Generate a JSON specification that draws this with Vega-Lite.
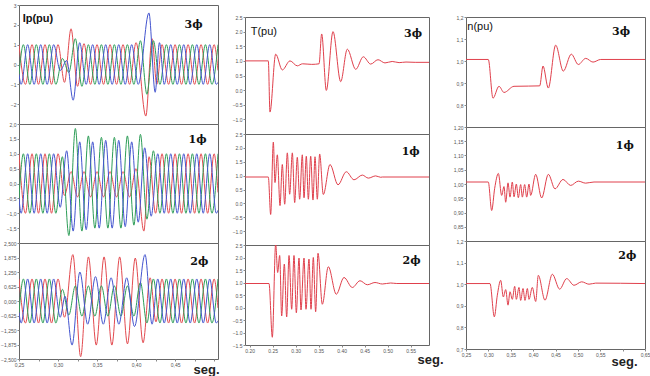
{
"$schema":"https://vega.github.io/schema/vega-lite/v6.json",
"padding":{"left":0,"top":2,"right":0,"bottom":0},
"background":"white",
"config":{"view":{"stroke":"#666","strokeWidth":1},"font":"Liberation Sans",
"axis":{"labelFontSize":5,"labelColor":"#555","tickSize":2,"tickColor":"#888","domain":false,"grid":false,"labelPadding":1,"labelFlush":false,"labelOverlap":false,"labelBound":false,"titleFontSize":13,"titleFontWeight":"bold","titleColor":"#222","titlePadding":0}},
"datasets":{
"one":[{}],
"c1a":[
{"s":"A","t":0.25,"v":1},{"s":"A","t":0.2583,"v":-1},{"s":"A","t":0.2667,"v":1},{"s":"A","t":0.275,"v":-1},{"s":"A","t":0.2833,"v":1},{"s":"A","t":0.2917,"v":-1},{"s":"A","t":0.3,"v":1},{"s":"A","t":0.3083,"v":-0.9},{"s":"A","t":0.3167,"v":1.8},{"s":"A","t":0.325,"v":-1.1},{"s":"A","t":0.3333,"v":1.05},{"s":"A","t":0.3417,"v":-1},{"s":"A","t":0.35,"v":1},{"s":"A","t":0.3583,"v":-1},{"s":"A","t":0.3667,"v":1},{"s":"A","t":0.375,"v":-1},{"s":"A","t":0.3833,"v":1},{"s":"A","t":0.3917,"v":-1},{"s":"A","t":0.4,"v":1.1},{"s":"A","t":0.4125,"v":-2.6},{"s":"A","t":0.4205,"v":1.3},{"s":"A","t":0.4265,"v":-1},{"s":"A","t":0.4333,"v":1},{"s":"A","t":0.4417,"v":-1},{"s":"A","t":0.45,"v":1},{"s":"A","t":0.4583,"v":-1},{"s":"A","t":0.4667,"v":1},{"s":"A","t":0.475,"v":-1},{"s":"A","t":0.4833,"v":1},{"s":"A","t":0.4917,"v":-1},{"s":"A","t":0.5,"v":1},{"s":"A","t":0.505,"v":-0.3},
{"s":"B","t":0.25,"v":-0.5},{"s":"B","t":0.2556,"v":1},{"s":"B","t":0.2639,"v":-1},{"s":"B","t":0.2722,"v":1},{"s":"B","t":0.2806,"v":-1},{"s":"B","t":0.2889,"v":1},{"s":"B","t":0.2972,"v":-1},{"s":"B","t":0.3056,"v":0.3},{"s":"B","t":0.3139,"v":-0.4},{"s":"B","t":0.3222,"v":1.3},{"s":"B","t":0.3306,"v":-1.1},{"s":"B","t":0.3389,"v":1},{"s":"B","t":0.3472,"v":-1},{"s":"B","t":0.3556,"v":1},{"s":"B","t":0.3639,"v":-1},{"s":"B","t":0.3722,"v":1},{"s":"B","t":0.3806,"v":-1},{"s":"B","t":0.3889,"v":1},{"s":"B","t":0.3972,"v":-1},{"s":"B","t":0.4056,"v":1.2},{"s":"B","t":0.4139,"v":-1.5},{"s":"B","t":0.4222,"v":1.2},{"s":"B","t":0.4306,"v":-1},{"s":"B","t":0.4389,"v":1},{"s":"B","t":0.4472,"v":-1},{"s":"B","t":0.4556,"v":1},{"s":"B","t":0.4639,"v":-1},{"s":"B","t":0.4722,"v":1},{"s":"B","t":0.4806,"v":-1},{"s":"B","t":0.4889,"v":1},{"s":"B","t":0.4972,"v":-1},{"s":"B","t":0.505,"v":1},
{"s":"C","t":0.25,"v":-0.5},{"s":"C","t":0.2528,"v":-1},{"s":"C","t":0.2611,"v":1},{"s":"C","t":0.2694,"v":-1},{"s":"C","t":0.2778,"v":1},{"s":"C","t":0.2861,"v":-1},{"s":"C","t":0.2944,"v":1},{"s":"C","t":0.3028,"v":-0.3},{"s":"C","t":0.3111,"v":0.2},{"s":"C","t":0.3194,"v":-1.8},{"s":"C","t":0.3278,"v":1.1},{"s":"C","t":0.3361,"v":-1},{"s":"C","t":0.3444,"v":1},{"s":"C","t":0.3528,"v":-1},{"s":"C","t":0.3611,"v":1},{"s":"C","t":0.3694,"v":-1},{"s":"C","t":0.3778,"v":1},{"s":"C","t":0.3861,"v":-1},{"s":"C","t":0.3944,"v":1},{"s":"C","t":0.4028,"v":-1},{"s":"C","t":0.4165,"v":2.6},{"s":"C","t":0.4245,"v":-1.4},{"s":"C","t":0.43,"v":1.1},{"s":"C","t":0.4361,"v":-1},{"s":"C","t":0.4444,"v":1},{"s":"C","t":0.4528,"v":-1},{"s":"C","t":0.4611,"v":1},{"s":"C","t":0.4694,"v":-1},{"s":"C","t":0.4778,"v":1},{"s":"C","t":0.4861,"v":-1},{"s":"C","t":0.4944,"v":1},{"s":"C","t":0.5028,"v":-1},{"s":"C","t":0.505,"v":-0.9}],
"c1b":[
{"s":"A","t":0.25,"v":1},{"s":"A","t":0.2583,"v":-1},{"s":"A","t":0.2667,"v":1},{"s":"A","t":0.275,"v":-1},{"s":"A","t":0.2833,"v":1},{"s":"A","t":0.2917,"v":-1},{"s":"A","t":0.3,"v":1},{"s":"A","t":0.3083,"v":-0.4},{"s":"A","t":0.3167,"v":0.4},{"s":"A","t":0.325,"v":-0.45},{"s":"A","t":0.3333,"v":0.4},{"s":"A","t":0.3417,"v":-0.45},{"s":"A","t":0.35,"v":0.4},{"s":"A","t":0.3583,"v":-0.45},{"s":"A","t":0.3667,"v":0.4},{"s":"A","t":0.375,"v":-0.45},{"s":"A","t":0.3833,"v":0.4},{"s":"A","t":0.3917,"v":-0.45},{"s":"A","t":0.4,"v":0.5},{"s":"A","t":0.41,"v":-1.6},{"s":"A","t":0.4167,"v":0.9},{"s":"A","t":0.425,"v":-1},{"s":"A","t":0.4333,"v":1},{"s":"A","t":0.4417,"v":-1},{"s":"A","t":0.45,"v":1},{"s":"A","t":0.4583,"v":-1},{"s":"A","t":0.4667,"v":1},{"s":"A","t":0.475,"v":-1},{"s":"A","t":0.4833,"v":1},{"s":"A","t":0.4917,"v":-1},{"s":"A","t":0.5,"v":1},{"s":"A","t":0.505,"v":-0.3},
{"s":"B","t":0.25,"v":-0.5},{"s":"B","t":0.2556,"v":1},{"s":"B","t":0.2639,"v":-1},{"s":"B","t":0.2722,"v":1},{"s":"B","t":0.2806,"v":-1},{"s":"B","t":0.2889,"v":1},{"s":"B","t":0.2972,"v":-1},{"s":"B","t":0.3056,"v":0.9},{"s":"B","t":0.3139,"v":-1.75},{"s":"B","t":0.3222,"v":1.85},{"s":"B","t":0.3306,"v":-1.6},{"s":"B","t":0.3389,"v":1.6},{"s":"B","t":0.3472,"v":-1.5},{"s":"B","t":0.3556,"v":1.55},{"s":"B","t":0.3639,"v":-1.5},{"s":"B","t":0.3722,"v":1.55},{"s":"B","t":0.3806,"v":-1.5},{"s":"B","t":0.3889,"v":1.6},{"s":"B","t":0.3972,"v":-1.4},{"s":"B","t":0.4056,"v":1.65},{"s":"B","t":0.4139,"v":-1.2},{"s":"B","t":0.4222,"v":1.1},{"s":"B","t":0.4306,"v":-1},{"s":"B","t":0.4389,"v":1},{"s":"B","t":0.4472,"v":-1},{"s":"B","t":0.4556,"v":1},{"s":"B","t":0.4639,"v":-1},{"s":"B","t":0.4722,"v":1},{"s":"B","t":0.4806,"v":-1},{"s":"B","t":0.4889,"v":1},{"s":"B","t":0.4972,"v":-1},{"s":"B","t":0.505,"v":1},
{"s":"C","t":0.25,"v":-0.5},{"s":"C","t":0.2528,"v":-1},{"s":"C","t":0.2611,"v":1},{"s":"C","t":0.2694,"v":-1},{"s":"C","t":0.2778,"v":1},{"s":"C","t":0.2861,"v":-1},{"s":"C","t":0.2944,"v":1},{"s":"C","t":0.3028,"v":-0.8},{"s":"C","t":0.3111,"v":1.1},{"s":"C","t":0.3194,"v":-1.6},{"s":"C","t":0.3278,"v":1.4},{"s":"C","t":0.3361,"v":-1.55},{"s":"C","t":0.3444,"v":1.4},{"s":"C","t":0.3528,"v":-1.5},{"s":"C","t":0.3611,"v":1.45},{"s":"C","t":0.3694,"v":-1.5},{"s":"C","t":0.3778,"v":1.45},{"s":"C","t":0.3861,"v":-1.45},{"s":"C","t":0.3944,"v":1.4},{"s":"C","t":0.4028,"v":-1.3},{"s":"C","t":0.4111,"v":1.2},{"s":"C","t":0.4194,"v":-1.1},{"s":"C","t":0.4278,"v":1},{"s":"C","t":0.4361,"v":-1},{"s":"C","t":0.4444,"v":1},{"s":"C","t":0.4528,"v":-1},{"s":"C","t":0.4611,"v":1},{"s":"C","t":0.4694,"v":-1},{"s":"C","t":0.4778,"v":1},{"s":"C","t":0.4861,"v":-1},{"s":"C","t":0.4944,"v":1},{"s":"C","t":0.5028,"v":-1},{"s":"C","t":0.505,"v":-0.9}],
"c1c":[
{"s":"A","t":0.25,"v":0.95},{"s":"A","t":0.2583,"v":-0.95},{"s":"A","t":0.2667,"v":0.95},{"s":"A","t":0.275,"v":-0.95},{"s":"A","t":0.2833,"v":0.95},{"s":"A","t":0.2917,"v":-0.95},{"s":"A","t":0.3,"v":0.95},{"s":"A","t":0.3083,"v":-0.7},{"s":"A","t":0.319,"v":2.0},{"s":"A","t":0.329,"v":-2.4},{"s":"A","t":0.339,"v":1.9},{"s":"A","t":0.349,"v":-1.9},{"s":"A","t":0.359,"v":1.9},{"s":"A","t":0.369,"v":-1.9},{"s":"A","t":0.379,"v":1.9},{"s":"A","t":0.389,"v":-1.85},{"s":"A","t":0.399,"v":1.85},{"s":"A","t":0.409,"v":-1.8},{"s":"A","t":0.418,"v":1.0},{"s":"A","t":0.4255,"v":-0.9},{"s":"A","t":0.4333,"v":0.95},{"s":"A","t":0.4417,"v":-0.95},{"s":"A","t":0.45,"v":0.95},{"s":"A","t":0.4583,"v":-0.95},{"s":"A","t":0.4667,"v":0.95},{"s":"A","t":0.475,"v":-0.95},{"s":"A","t":0.4833,"v":0.95},{"s":"A","t":0.4917,"v":-0.95},{"s":"A","t":0.5,"v":0.95},{"s":"A","t":0.505,"v":-0.3},
{"s":"B","t":0.25,"v":-0.5},{"s":"B","t":0.2556,"v":0.95},{"s":"B","t":0.2639,"v":-0.95},{"s":"B","t":0.2722,"v":0.95},{"s":"B","t":0.2806,"v":-0.95},{"s":"B","t":0.2889,"v":0.95},{"s":"B","t":0.2972,"v":-0.95},{"s":"B","t":0.3056,"v":0.5},{"s":"B","t":0.3139,"v":-0.6},{"s":"B","t":0.3222,"v":0.65},{"s":"B","t":0.3306,"v":-0.65},{"s":"B","t":0.3389,"v":0.65},{"s":"B","t":0.3472,"v":-0.65},{"s":"B","t":0.3556,"v":0.65},{"s":"B","t":0.3639,"v":-0.65},{"s":"B","t":0.3722,"v":0.65},{"s":"B","t":0.3806,"v":-0.65},{"s":"B","t":0.3889,"v":0.65},{"s":"B","t":0.3972,"v":-0.65},{"s":"B","t":0.4056,"v":0.8},{"s":"B","t":0.4139,"v":-0.95},{"s":"B","t":0.4222,"v":0.95},{"s":"B","t":0.4306,"v":-0.95},{"s":"B","t":0.4389,"v":0.95},{"s":"B","t":0.4472,"v":-0.95},{"s":"B","t":0.4556,"v":0.95},{"s":"B","t":0.4639,"v":-0.95},{"s":"B","t":0.4722,"v":0.95},{"s":"B","t":0.4806,"v":-0.95},{"s":"B","t":0.4889,"v":0.95},{"s":"B","t":0.4972,"v":-0.95},{"s":"B","t":0.505,"v":0.95},
{"s":"C","t":0.25,"v":-0.5},{"s":"C","t":0.2528,"v":-0.95},{"s":"C","t":0.2611,"v":0.95},{"s":"C","t":0.2694,"v":-0.95},{"s":"C","t":0.2778,"v":0.95},{"s":"C","t":0.2861,"v":-0.95},{"s":"C","t":0.2944,"v":0.95},{"s":"C","t":0.3028,"v":-0.7},{"s":"C","t":0.309,"v":0.2},{"s":"C","t":0.318,"v":-1.9},{"s":"C","t":0.328,"v":1.25},{"s":"C","t":0.338,"v":-1.0},{"s":"C","t":0.348,"v":1.05},{"s":"C","t":0.358,"v":-1.0},{"s":"C","t":0.368,"v":1.0},{"s":"C","t":0.378,"v":-1.0},{"s":"C","t":0.388,"v":1.0},{"s":"C","t":0.398,"v":-1.1},{"s":"C","t":0.4115,"v":2.0},{"s":"C","t":0.4205,"v":-1.0},{"s":"C","t":0.4278,"v":0.95},{"s":"C","t":0.4361,"v":-0.95},{"s":"C","t":0.4444,"v":0.95},{"s":"C","t":0.4528,"v":-0.95},{"s":"C","t":0.4611,"v":0.95},{"s":"C","t":0.4694,"v":-0.95},{"s":"C","t":0.4778,"v":0.95},{"s":"C","t":0.4861,"v":-0.95},{"s":"C","t":0.4944,"v":0.95},{"s":"C","t":0.5028,"v":-0.95},{"s":"C","t":0.505,"v":-0.85}],
"t1":[{"t":0.19,"v":1.0},{"t":0.2407,"v":1.0},{"t":0.2443,"v":-0.75},{"t":0.2567,"v":1.23},{"t":0.2711,"v":0.69},{"t":0.2878,"v":1.0},{"t":0.3037,"v":0.83},{"t":0.315,"v":0.9},{"t":0.335,"v":0.88},{"t":0.351,"v":0.9},{"t":0.3567,"v":1.92},{"t":0.3668,"v":-0.01},{"t":0.3813,"v":2.0},{"t":0.398,"v":0.29},{"t":0.4124,"v":1.4},{"t":0.4307,"v":0.71},{"t":0.4472,"v":1.14},{"t":0.4632,"v":0.89},{"t":0.4791,"v":1.04},{"t":0.4943,"v":0.93},{"t":0.51,"v":0.98},{"t":0.525,"v":0.94},{"t":0.54,"v":0.96},{"t":0.56,"v":0.95},{"t":0.59,"v":0.95}],
"t2":[{"t":0.19,"v":0.95},{"t":0.2407,"v":0.95},{"t":0.2458,"v":-0.4},{"t":0.2516,"v":2.21},{"t":0.2552,"v":0.75},{"t":0.2603,"v":1.75},{"t":0.2661,"v":-0.08},{"t":0.2711,"v":1.4},{"t":0.2763,"v":-0.03},{"t":0.282,"v":1.82},{"t":0.2871,"v":0.33},{"t":0.2929,"v":1.82},{"t":0.298,"v":0.03},{"t":0.3037,"v":1.66},{"t":0.3088,"v":0.15},{"t":0.3146,"v":1.75},{"t":0.3183,"v":0.2},{"t":0.3233,"v":1.7},{"t":0.3277,"v":0.15},{"t":0.3328,"v":1.7},{"t":0.3378,"v":0.12},{"t":0.3422,"v":1.68},{"t":0.3472,"v":0.15},{"t":0.3523,"v":1.78},{"t":0.3602,"v":0.32},{"t":0.3748,"v":1.4},{"t":0.3922,"v":0.67},{"t":0.4102,"v":1.14},{"t":0.427,"v":0.85},{"t":0.445,"v":1.02},{"t":0.4581,"v":0.91},{"t":0.4741,"v":0.99},{"t":0.485,"v":0.94},{"t":0.4885,"v":0.95},{"t":0.59,"v":0.95}],
"t3":[{"t":0.19,"v":0.96},{"t":0.2422,"v":0.96},{"t":0.2494,"v":-1.19},{"t":0.2567,"v":2.55},{"t":0.261,"v":1.4},{"t":0.2654,"v":2.08},{"t":0.2697,"v":-0.34},{"t":0.2755,"v":1.74},{"t":0.2806,"v":-0.38},{"t":0.2857,"v":2.08},{"t":0.2915,"v":-0.07},{"t":0.2965,"v":2.08},{"t":0.3016,"v":-0.21},{"t":0.3074,"v":1.98},{"t":0.3117,"v":-0.1},{"t":0.3183,"v":1.98},{"t":0.3226,"v":-0.07},{"t":0.3291,"v":1.94},{"t":0.3335,"v":-0.07},{"t":0.3385,"v":2.0},{"t":0.3436,"v":-0.17},{"t":0.3487,"v":2.17},{"t":0.3581,"v":0.13},{"t":0.3711,"v":1.63},{"t":0.3885,"v":0.53},{"t":0.4052,"v":1.2},{"t":0.4233,"v":0.8},{"t":0.44,"v":1.07},{"t":0.4559,"v":0.91},{"t":0.4726,"v":1.0},{"t":0.4885,"v":0.94},{"t":0.5067,"v":0.98},{"t":0.52,"v":0.96},{"t":0.59,"v":0.96}],
"n1":[{"t":0.25,"v":1.007},{"t":0.2998,"v":1.007},{"t":0.3103,"v":0.831},{"t":0.3237,"v":0.885},{"t":0.3349,"v":0.857},{"t":0.3573,"v":0.885},{"t":0.39,"v":0.886},{"t":0.4147,"v":0.887},{"t":0.4221,"v":0.977},{"t":0.4339,"v":0.877},{"t":0.4504,"v":1.072},{"t":0.4674,"v":0.954},{"t":0.4853,"v":1.031},{"t":0.501,"v":0.984},{"t":0.5175,"v":1.012},{"t":0.5338,"v":0.995},{"t":0.551,"v":1.007},{"t":0.65,"v":1.007}],
"n2":[{"t":0.25,"v":1.007},{"t":0.2998,"v":1.007},{"t":0.3074,"v":0.907},{"t":0.3141,"v":0.985},{"t":0.3223,"v":1.037},{"t":0.3297,"v":0.96},{"t":0.3349,"v":0.991},{"t":0.3387,"v":0.936},{"t":0.3439,"v":1.004},{"t":0.3483,"v":0.954},{"t":0.3535,"v":1.007},{"t":0.3573,"v":0.955},{"t":0.3625,"v":1.0},{"t":0.3669,"v":0.952},{"t":0.3722,"v":0.998},{"t":0.3759,"v":0.954},{"t":0.3811,"v":0.998},{"t":0.3856,"v":0.954},{"t":0.3908,"v":1.0},{"t":0.3945,"v":0.96},{"t":0.4057,"v":1.034},{"t":0.4191,"v":0.951},{"t":0.434,"v":1.034},{"t":0.4489,"v":0.983},{"t":0.4668,"v":1.016},{"t":0.4839,"v":0.995},{"t":0.501,"v":1.01},{"t":0.5174,"v":1.003},{"t":0.536,"v":1.007},{"t":0.65,"v":1.007}],
"n3":[{"t":0.25,"v":1.003},{"t":0.3036,"v":1.003},{"t":0.3133,"v":0.849},{"t":0.32,"v":0.949},{"t":0.3275,"v":1.018},{"t":0.3334,"v":0.941},{"t":0.3387,"v":0.975},{"t":0.3439,"v":0.903},{"t":0.3483,"v":0.965},{"t":0.3535,"v":0.93},{"t":0.3588,"v":0.99},{"t":0.3625,"v":0.93},{"t":0.3684,"v":0.985},{"t":0.3722,"v":0.925},{"t":0.3774,"v":0.98},{"t":0.3818,"v":0.925},{"t":0.3871,"v":0.98},{"t":0.3908,"v":0.93},{"t":0.3982,"v":0.985},{"t":0.4057,"v":0.92},{"t":0.4116,"v":1.041},{"t":0.4265,"v":0.926},{"t":0.4429,"v":1.046},{"t":0.4593,"v":0.977},{"t":0.475,"v":1.026},{"t":0.4913,"v":0.995},{"t":0.5085,"v":1.011},{"t":0.5249,"v":1.0},{"t":0.5398,"v":1.005},{"t":0.65,"v":1.003}]
},
"spacing":11,
"hconcat":[
{"vconcat":[
 {"width":199,"height":119,"layer":[
  {"data":{"name":"c1a"},"mark":{"type":"line","interpolate":"monotone","strokeWidth":1,"clip":true},
   "encoding":{"x":{"field":"t","type":"quantitative","scale":{"domain":[0.25,0.505],"nice":false,"zero":false},"axis":null},
   "y":{"field":"v","type":"quantitative","scale":{"domain":[-3,3],"nice":false},"axis":{"title":null,"tickCount":40,"values":[-2,-1,0,1,2,3],"format":"d"}},
   "color":{"field":"s","type":"nominal","scale":{"domain":["A","B","C"],"range":["#e34a4f","#2d9d57","#4354cf"]},"legend":null}}},
  {"data":{"name":"one"},"mark":{"type":"text","text":"Ip(pu)","align":"left","baseline":"alphabetic","fontSize":11,"fontWeight":"bold","font":"Liberation Sans","color":"#111"},
   "encoding":{"x":{"datum":0.2547,"type":"quantitative"},"y":{"datum":2.12,"type":"quantitative"}}},
  {"data":{"name":"one"},"mark":{"type":"text","text":"3ϕ","align":"center","baseline":"alphabetic","fontSize":11,"fontWeight":"bold","font":"DejaVu Serif","color":"#111"},
   "encoding":{"x":{"datum":0.4736,"type":"quantitative"},"y":{"datum":1.865,"type":"quantitative"}}}]},
 {"width":199,"height":119,"layer":[
  {"data":{"name":"c1b"},"mark":{"type":"line","interpolate":"monotone","strokeWidth":1,"clip":true},
   "encoding":{"x":{"field":"t","type":"quantitative","scale":{"domain":[0.25,0.505],"nice":false,"zero":false},"axis":null},
   "y":{"field":"v","type":"quantitative","scale":{"domain":[-2,2],"nice":false},"axis":{"title":null,"tickCount":40,"values":[-1.5,-1,-0.5,0,0.5,1,1.5,2],"labelExpr":"replace(format(datum.value,'.1f'),'.',',')"}},
   "color":{"field":"s","type":"nominal","scale":{"domain":["A","B","C"],"range":["#e34a4f","#2d9d57","#4354cf"]},"legend":null}}},
  {"data":{"name":"one"},"mark":{"type":"text","text":"1ϕ","align":"center","baseline":"alphabetic","fontSize":11,"fontWeight":"bold","font":"DejaVu Serif","color":"#111"},
   "encoding":{"x":{"datum":0.4787,"type":"quantitative"},"y":{"datum":1.345,"type":"quantitative"}}}]},
 {"width":199,"height":116,"layer":[
  {"data":{"name":"c1c"},"mark":{"type":"line","interpolate":"monotone","strokeWidth":1,"clip":true},
   "encoding":{"x":{"field":"t","type":"quantitative","scale":{"domain":[0.25,0.505],"nice":false,"zero":false},
     "axis":{"title":"seg.","tickCount":40,"values":[0.25,0.275,0.3,0.325,0.35,0.375,0.4,0.425,0.45,0.475,0.5],"labelExpr":"(round(datum.value*1000)%50==0 && datum.value<0.49) ? replace(format(datum.value,'.2f'),'.',',') : ''","titleX":200,"titleY":14,"titleAlign":"right","titleBaseline":"alphabetic"}},
   "y":{"field":"v","type":"quantitative","scale":{"domain":[-2.5,2.5],"nice":false},"axis":{"title":null,"tickCount":40,"values":[-2.5,-1.875,-1.25,-0.625,0,0.625,1.25,1.875,2.5],"labelExpr":"replace(format(datum.value,'.3f'),'.',',')"}},
   "color":{"field":"s","type":"nominal","scale":{"domain":["A","B","C"],"range":["#e34a4f","#2d9d57","#4354cf"]},"legend":null}}},
  {"data":{"name":"one"},"mark":{"type":"text","text":"2ϕ","align":"center","baseline":"alphabetic","fontSize":11,"fontWeight":"bold","font":"DejaVu Serif","color":"#111"},
   "encoding":{"x":{"datum":0.4811,"type":"quantitative"},"y":{"datum":1.55,"type":"quantitative"}}}]}
 ],"spacing":0,"bounds":"flush"},
{"spacing":8,"hconcat":[
 {"vconcat":[
  {"width":184,"height":12,"data":{"values":[]},"mark":"point","view":{"stroke":null}},
  {"width":184,"height":117,"layer":[
   {"data":{"name":"t1"},"mark":{"type":"line","interpolate":"monotone","strokeWidth":1,"clip":true,"color":"#e0404c"},
    "encoding":{"x":{"field":"t","type":"quantitative","scale":{"domain":[0.19,0.59],"nice":false,"zero":false},"axis":null},
    "y":{"field":"v","type":"quantitative","scale":{"domain":[-1.5,2.5],"nice":false},"axis":{"title":null,"tickCount":40,"values":[-1,-0.5,0,0.5,1,1.5,2,2.5],"format":".1f"}}}},
   {"data":{"name":"one"},"mark":{"type":"text","text":"T(pu)","align":"left","baseline":"alphabetic","fontSize":11,"font":"Liberation Sans","color":"#111"},
    "encoding":{"x":{"datum":0.2024,"type":"quantitative"},"y":{"datum":1.895,"type":"quantitative"}}},
   {"data":{"name":"one"},"mark":{"type":"text","text":"3ϕ","align":"center","baseline":"alphabetic","fontSize":11,"fontWeight":"bold","font":"DejaVu Serif","color":"#111"},
    "encoding":{"x":{"datum":0.5552,"type":"quantitative"},"y":{"datum":1.816,"type":"quantitative"}}}]},
  {"width":184,"height":111,"layer":[
   {"data":{"name":"t2"},"mark":{"type":"line","interpolate":"monotone","strokeWidth":1,"clip":true,"color":"#e0404c"},
    "encoding":{"x":{"field":"t","type":"quantitative","scale":{"domain":[0.19,0.59],"nice":false,"zero":false},"axis":null},
    "y":{"field":"v","type":"quantitative","scale":{"domain":[-1.5,2.5],"nice":false},"axis":{"title":null,"tickCount":40,"values":[-1,-0.5,0,0.5,1,1.5,2,2.5],"format":".1f"}}}},
   {"data":{"name":"one"},"mark":{"type":"text","text":"1ϕ","align":"center","baseline":"alphabetic","fontSize":11,"fontWeight":"bold","font":"DejaVu Serif","color":"#111"},
    "encoding":{"x":{"datum":0.5502,"type":"quantitative"},"y":{"datum":1.743,"type":"quantitative"}}}]},
  {"width":184,"height":100,"layer":[
   {"data":{"name":"t3"},"mark":{"type":"line","interpolate":"monotone","strokeWidth":1,"clip":true,"color":"#e0404c"},
    "encoding":{"x":{"field":"t","type":"quantitative","scale":{"domain":[0.19,0.59],"nice":false,"zero":false},
      "axis":{"title":"seg.","tickCount":40,"values":[0.2,0.25,0.3,0.35,0.4,0.45,0.5,0.55],"format":".2f","titleX":198,"titleY":18,"titleAlign":"right","titleBaseline":"alphabetic"}},
    "y":{"field":"v","type":"quantitative","scale":{"domain":[-1.5,2.5],"nice":false},"axis":{"title":null,"tickCount":40,"values":[-1.5,-1,-0.5,0,0.5,1,1.5,2,2.5],"format":".1f"}}}},
   {"data":{"name":"one"},"mark":{"type":"text","text":"2ϕ","align":"center","baseline":"alphabetic","fontSize":11,"fontWeight":"bold","font":"DejaVu Serif","color":"#111"},
    "encoding":{"x":{"datum":0.552,"type":"quantitative"},"y":{"datum":1.76,"type":"quantitative"}}}]}
 ],"spacing":0,"bounds":"flush"},
 {"vconcat":[
  {"width":179,"height":12,"data":{"values":[]},"mark":"point","view":{"stroke":null}},
  {"width":179,"height":110,"layer":[
   {"data":{"name":"n1"},"mark":{"type":"line","interpolate":"monotone","strokeWidth":1,"clip":true,"color":"#e0404c"},
    "encoding":{"x":{"field":"t","type":"quantitative","scale":{"domain":[0.25,0.65],"nice":false,"zero":false},"axis":null},
    "y":{"field":"v","type":"quantitative","scale":{"domain":[0.7,1.2],"nice":false,"zero":false},"axis":{"title":null,"tickCount":40,"values":[0.8,0.9,1.0,1.1,1.2],"labelExpr":"replace(format(datum.value,'.1f'),'.',',')"}}}},
   {"data":{"name":"one"},"mark":{"type":"text","text":"n(pu)","align":"left","baseline":"alphabetic","fontSize":11,"font":"Liberation Sans","color":"#111"},
    "encoding":{"x":{"datum":0.2529,"type":"quantitative"},"y":{"datum":1.1395,"type":"quantitative"}}},
   {"data":{"name":"one"},"mark":{"type":"text","text":"3ϕ","align":"center","baseline":"alphabetic","fontSize":11,"fontWeight":"bold","font":"DejaVu Serif","color":"#111"},
    "encoding":{"x":{"datum":0.5964,"type":"quantitative"},"y":{"datum":1.118,"type":"quantitative"}}}]},
  {"width":179,"height":114,"layer":[
   {"data":{"name":"n2"},"mark":{"type":"line","interpolate":"monotone","strokeWidth":1,"clip":true,"color":"#e0404c"},
    "encoding":{"x":{"field":"t","type":"quantitative","scale":{"domain":[0.25,0.65],"nice":false,"zero":false},"axis":null},
    "y":{"field":"v","type":"quantitative","scale":{"domain":[0.8,1.2],"nice":false,"zero":false},"axis":{"title":null,"tickCount":40,"values":[0.85,0.9,0.95,1.0,1.05,1.1,1.15,1.2],"labelExpr":"replace(format(datum.value,'.2f'),'.',',')"}}}},
   {"data":{"name":"one"},"mark":{"type":"text","text":"1ϕ","align":"center","baseline":"alphabetic","fontSize":11,"fontWeight":"bold","font":"DejaVu Serif","color":"#111"},
    "encoding":{"x":{"datum":0.6049,"type":"quantitative"},"y":{"datum":1.1228,"type":"quantitative"}}}]},
  {"width":179,"height":108,"layer":[
   {"data":{"name":"n3"},"mark":{"type":"line","interpolate":"monotone","strokeWidth":1,"clip":true,"color":"#e0404c"},
    "encoding":{"x":{"field":"t","type":"quantitative","scale":{"domain":[0.25,0.65],"nice":false,"zero":false},
      "axis":{"title":"seg.","tickCount":40,"values":[0.25,0.3,0.35,0.4,0.45,0.5,0.55,0.6,0.65],"labelExpr":"abs(datum.value-0.6)<0.001 ? '' : replace(format(datum.value,'.2f'),'.',',')","titleX":171,"titleY":16,"titleAlign":"right","titleBaseline":"alphabetic"}},
    "y":{"field":"v","type":"quantitative","scale":{"domain":[0.7,1.2],"nice":false,"zero":false},"axis":{"title":null,"tickCount":40,"values":[0.7,0.8,0.9,1.0,1.1,1.2],"labelExpr":"replace(format(datum.value,'.1f'),'.',',')"}}}},
   {"data":{"name":"one"},"mark":{"type":"text","text":"2ϕ","align":"center","baseline":"alphabetic","fontSize":11,"fontWeight":"bold","font":"DejaVu Serif","color":"#111"},
    "encoding":{"x":{"datum":0.6105,"type":"quantitative"},"y":{"datum":1.1167,"type":"quantitative"}}}]}
 ],"spacing":0,"bounds":"flush"}
]}
]
}
